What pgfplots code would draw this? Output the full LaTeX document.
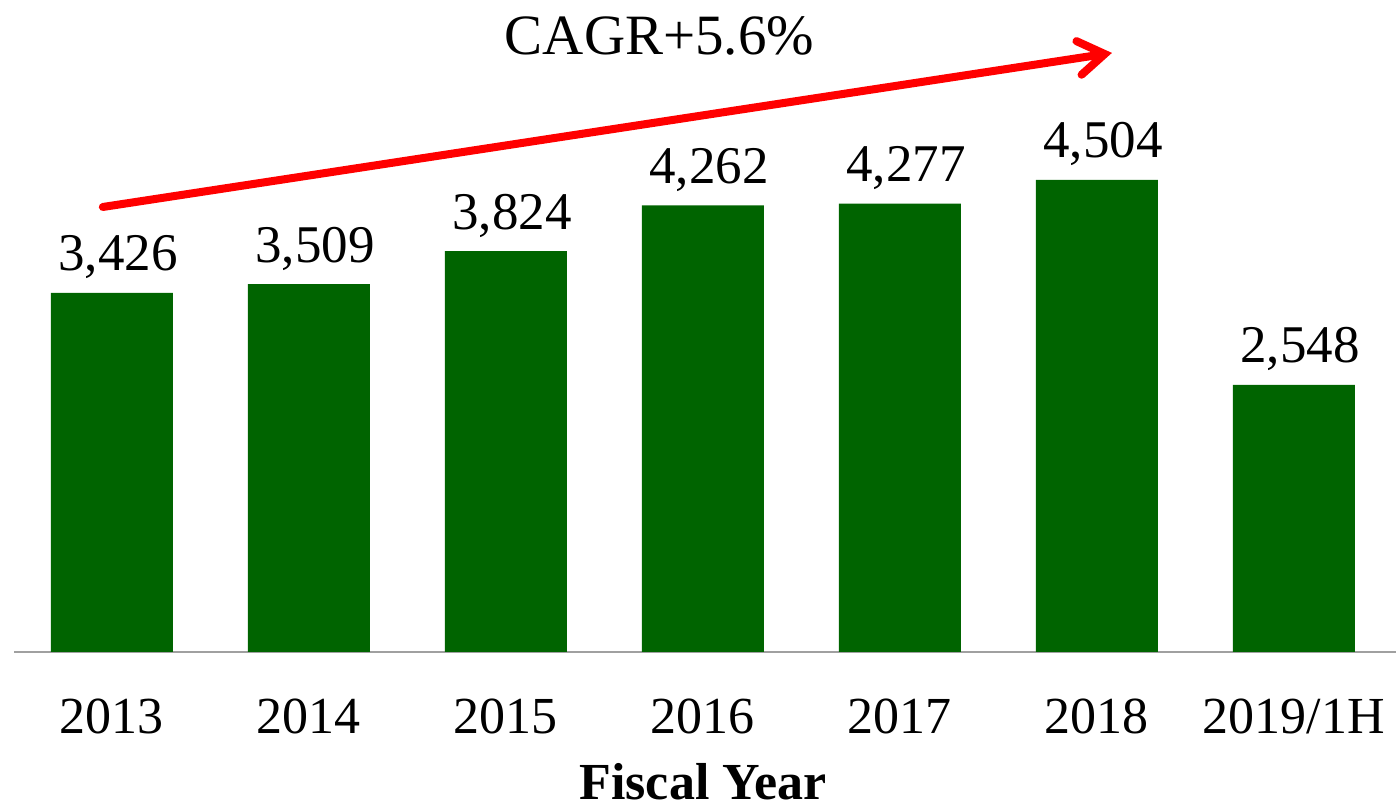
\documentclass[border=0pt]{standalone}
\usepackage{fontspec}
\setmainfont{Liberation Serif}
\usepackage{pgfplots}
\pgfplotsset{compat=1.18}
\usetikzlibrary{arrows.meta}
\definecolor{bargreen}{RGB}{0,100,0}
\definecolor{basegray}{RGB}{160,160,160}

\begin{document}
\begin{tikzpicture}
\path[use as bounding box] (0,0) rectangle (698pt,404pt);
\begin{axis}[at={(7pt,78pt)},anchor=south west,scale only axis,width=691pt,height=326pt,
  ybar,bar width=61pt,xmin=-0.497,xmax=6.518,ymin=0,ymax=6221,
  axis y line=none,axis x line*=bottom,x axis line style={basegray,line width=0.75pt,-},
  xtick={0,...,6},xticklabels={2013,2014,2015,2016,2017,2018,2019/1H},major tick length=0pt,
  xticklabel style={font=\fontsize{26}{30}\selectfont,anchor=base,yshift=-40.5pt},
  nodes near coords,every node near coord/.append style={font=\fontsize{26.5}{30}\selectfont,anchor=base,yshift=11pt,xshift=3pt,inner sep=0pt},
  /pgf/number format/.cd,1000 sep={,},assume math mode=true,/pgfplots/.cd,
  clip=false]
\addplot[fill=bargreen,draw=none] coordinates {(0,3426)(1,3509)(2,3824)(3,4262)(4,4277)(5,4504)(6,2548)};
\draw[red,line width=4pt,line cap=round,-{Straight Barb[length=13pt,width=17pt,line cap=round]}] (axis cs:-0.046,4246) -- (axis cs:5.076,5716);
\node[anchor=base,font=\fontsize{28.5}{32}\selectfont] at (axis cs:2.78,5697) {CAGR+5.6\%};
\node[anchor=base,font=\fontsize{26}{30}\selectfont\bfseries,yshift=-73.5pt] at (axis cs:3,0) {Fiscal Year};
\end{axis}
\end{tikzpicture}
\end{document}
